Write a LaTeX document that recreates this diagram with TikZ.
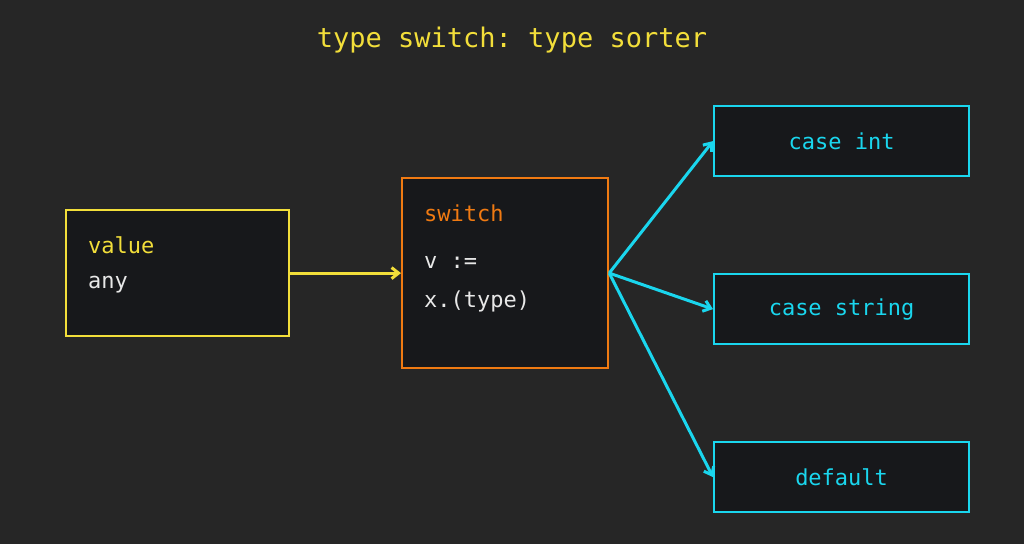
\documentclass[tikz,border=0pt]{standalone}
\usepackage{fontspec}
\setmonofont{DejaVu Sans Mono}
\usetikzlibrary{positioning,arrows.meta}
\definecolor{bg}{HTML}{262626}
\definecolor{boxfill}{HTML}{17181B}
\definecolor{ylw}{HTML}{F2DE3A}
\definecolor{org}{HTML}{F07A12}
\definecolor{cyn}{HTML}{1AD6EE}
\definecolor{txt}{HTML}{E8E8E8}
\begin{document}
\begin{tikzpicture}[x=1pt,y=-1pt,font=\ttfamily\fontsize{22}{26}\selectfont]
\tikzset{
  box/.style={draw, line width=2.2pt, fill=boxfill, inner sep=0pt, anchor=north west},
  lbl/.style={anchor=west, inner sep=0pt},
  conn/.style={line width=3pt, -{Straight Barb[length=7pt,width=11pt]}}
}
\fill[bg] (0,0) rectangle (1024,544);
\useasboundingbox (0,0) rectangle (1024,544);

% title
\node[text=ylw, font=\ttfamily\fontsize{27}{31}\selectfont] (title) at (512,40) {type switch: type sorter};

% boxes
\node[box, draw=ylw, minimum width=223pt, minimum height=126pt] (value) at (65,209) {};
\node[box, draw=org, minimum width=206pt, minimum height=190pt] (switch) at (401,177) {};
\node[box, draw=cyn, minimum width=255pt, minimum height=70pt, text=cyn] (int) at (713,105) {case int};
\node[box, draw=cyn, minimum width=255pt, minimum height=70pt, text=cyn] (str) at (713,273) {case string};
\node[box, draw=cyn, minimum width=255pt, minimum height=70pt, text=cyn] (dflt) at (713,441) {default};

% texts
\node[lbl, text=ylw] (valname) at (88,245) {value};
\node[lbl, text=txt] (valtype) at (88,285) {any};
\node[lbl, text=org] (swname) at (424,213) {switch};
\node[lbl, text=txt] (swline1) at (424,262) {v :=};
\node[lbl, text=txt] (swline2) at (424,301) {x.(type)};

% connectors
\draw[conn, draw=ylw] (value.east) -- (switch.west);
\draw[conn, draw=cyn] (switch.east) -- (int.west);
\draw[conn, draw=cyn] (switch.east) -- (str.west);
\draw[conn, draw=cyn] (switch.east) -- (dflt.west);
\end{tikzpicture}
\end{document}
